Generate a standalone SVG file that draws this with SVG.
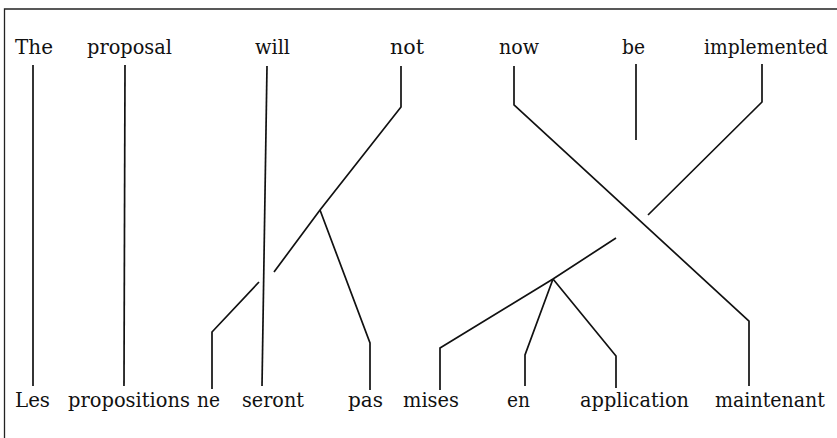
<svg xmlns="http://www.w3.org/2000/svg" width="837" height="438" viewBox="0 0 837 438">
<style>
.w{font-family:"DejaVu Serif","Liberation Serif",serif;font-size:20px;fill:#111}
.c{fill:none;stroke:#111;stroke-width:1.7;stroke-linejoin:miter}
.f{fill:none;stroke:#222;stroke-width:1.3}
</style>
<rect width="837" height="438" fill="#fff"/>
<path class="f" d="M4.5,438 V9 H837"/>
<g id="source">
<text id="w-The" class="w" x="15" y="54" textLength="38" lengthAdjust="spacingAndGlyphs">The</text>
<text id="w-proposal" class="w" x="87" y="54" textLength="85" lengthAdjust="spacingAndGlyphs">proposal</text>
<text id="w-will" class="w" x="255" y="54" textLength="35" lengthAdjust="spacingAndGlyphs">will</text>
<text id="w-not" class="w" x="390" y="54" textLength="34" lengthAdjust="spacingAndGlyphs">not</text>
<text id="w-now" class="w" x="499" y="54" textLength="40" lengthAdjust="spacingAndGlyphs">now</text>
<text id="w-be" class="w" x="622" y="54" textLength="23" lengthAdjust="spacingAndGlyphs">be</text>
<text id="w-implemented" class="w" x="704" y="54" textLength="124" lengthAdjust="spacingAndGlyphs">implemented</text>
</g>
<g id="target">
<text id="w-Les" class="w" x="15" y="407" textLength="35" lengthAdjust="spacingAndGlyphs">Les</text>
<text id="w-propositions" class="w" x="68" y="407" textLength="122" lengthAdjust="spacingAndGlyphs">propositions</text>
<text id="w-ne" class="w" x="197" y="407" textLength="23" lengthAdjust="spacingAndGlyphs">ne</text>
<text id="w-seront" class="w" x="242" y="407" textLength="62" lengthAdjust="spacingAndGlyphs">seront</text>
<text id="w-pas" class="w" x="348" y="407" textLength="35" lengthAdjust="spacingAndGlyphs">pas</text>
<text id="w-mises" class="w" x="403" y="407" textLength="56" lengthAdjust="spacingAndGlyphs">mises</text>
<text id="w-en" class="w" x="507" y="407" textLength="23" lengthAdjust="spacingAndGlyphs">en</text>
<text id="w-application" class="w" x="580" y="407" textLength="109" lengthAdjust="spacingAndGlyphs">application</text>
<text id="w-maintenant" class="w" x="715" y="407" textLength="110" lengthAdjust="spacingAndGlyphs">maintenant</text>
</g>
<g id="connectors">
<polyline class="c" points="33,65 33,386"/>
<polyline class="c" points="125,65 124,386"/>
<polyline class="c" points="267,66 262,386"/>
<polyline class="c" points="401,66 401,107 320,210 274,272"/>
<polyline class="c" points="259,282 212,332 212,389"/>
<polyline class="c" points="320,210 370,343 370,390"/>
<polyline class="c" points="514,66 514,105 749,321 749,386"/>
<polyline class="c" points="636,64 636,140"/>
<polyline class="c" points="762,64 762,102 648,215"/>
<polyline class="c" points="616,238 553,279 440,348 440,390"/>
<polyline class="c" points="553,279 525,355 525,386"/>
<polyline class="c" points="553,279 616,356 616,388"/>
</g>
</svg>
